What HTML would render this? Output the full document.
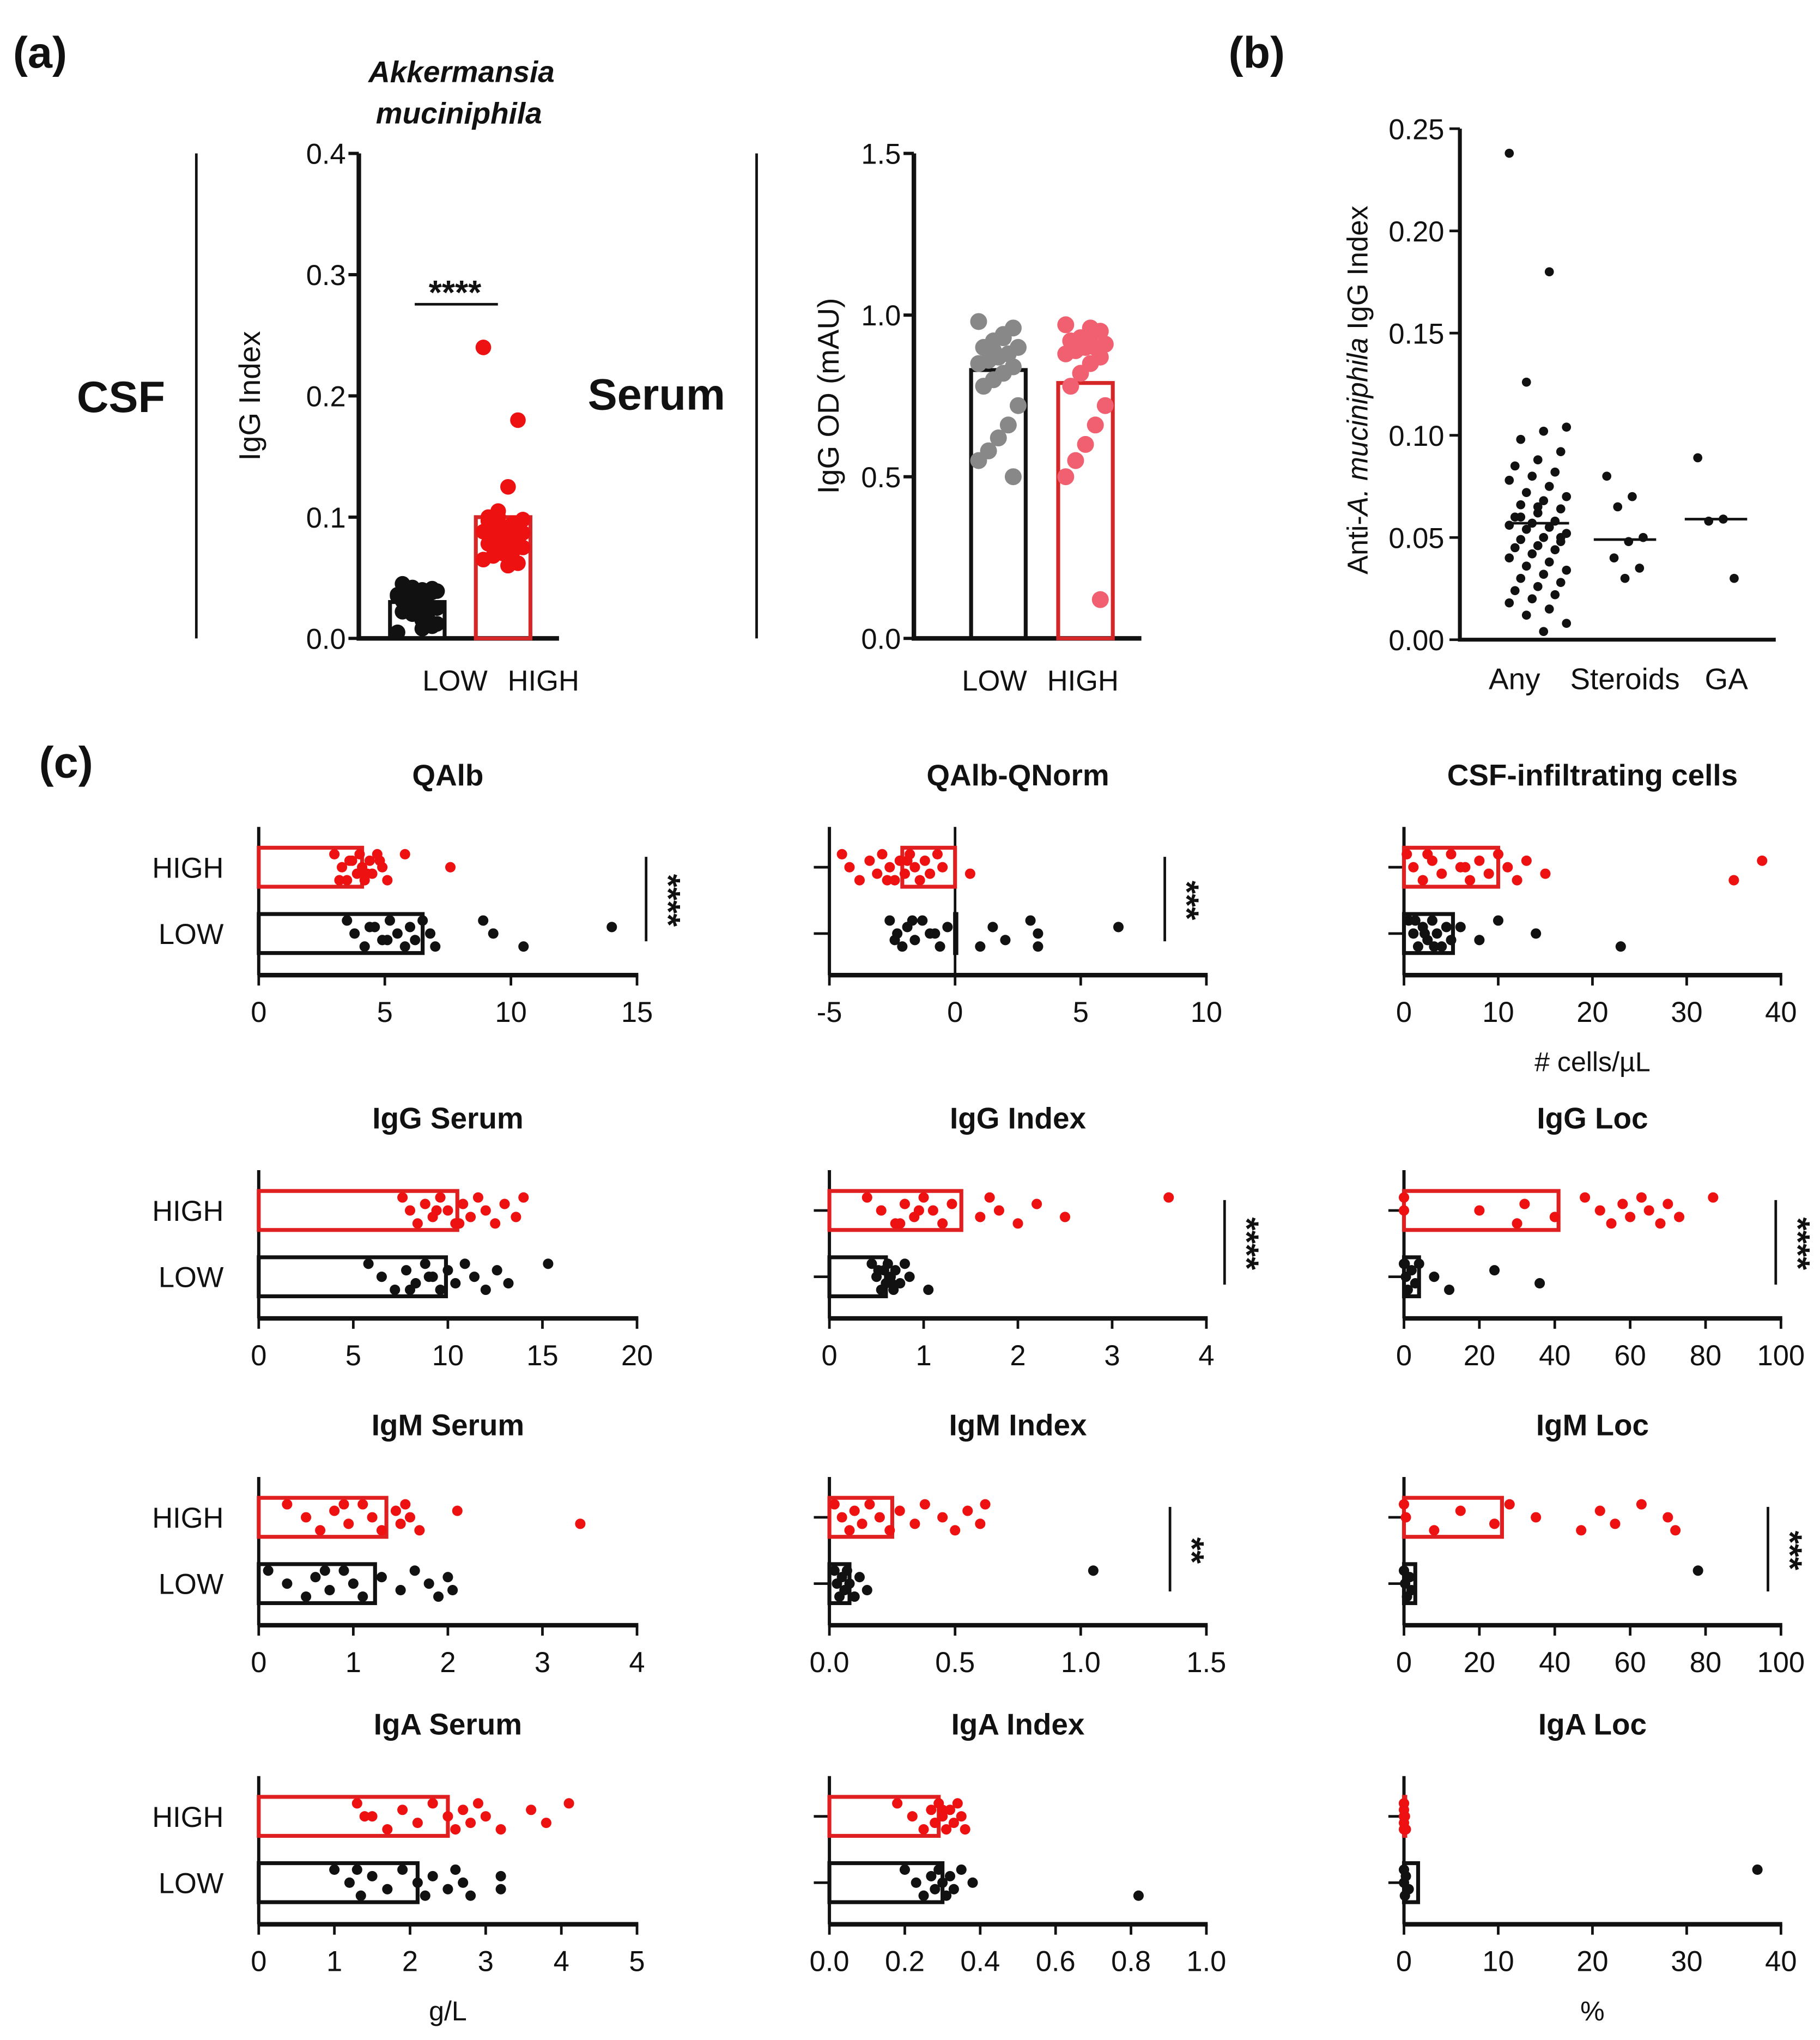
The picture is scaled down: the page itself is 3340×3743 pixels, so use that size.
<!DOCTYPE html>
<html><head><meta charset="utf-8"><style>
html,body{margin:0;padding:0;background:#fff}
svg{display:block}
text{font-family:"Liberation Sans Narrow","Liberation Sans",sans-serif;fill:#111}
</style></head><body>
<svg id="fig" xmlns="http://www.w3.org/2000/svg" width="3340" height="3743" viewBox="0 0 1400 1569">
<g id="root"></g>
</svg>
<script>
// ---------- data ----------
const aCsfCats = ["LOW","HIGH"];
const aCsfBars = [0.03, 0.1];
const aCsfLow = [0.005,0.01,0.015,0.02,0.022,0.025,0.028,0.03,0.032,0.035,0.038,0.04,0.042,0.045,0.012,0.018,0.027,0.033,0.036,0.041,0.008,0.024,0.031,0.039];
const aCsfHigh = [0.24,0.18,0.125,0.105,0.1,0.098,0.095,0.092,0.09,0.088,0.085,0.082,0.08,0.078,0.075,0.072,0.07,0.068,0.065,0.062,0.06,0.1,0.097,0.087,0.083];
const aCsfTicks = [0.0,0.1,0.2,0.3,0.4];
const aSerBars = [0.83, 0.79];
const aSerLow = [0.98,0.96,0.94,0.92,0.9,0.9,0.88,0.87,0.86,0.85,0.84,0.82,0.8,0.78,0.72,0.66,0.62,0.58,0.55,0.5,0.93,0.89];
const aSerHigh = [0.97,0.95,0.94,0.93,0.92,0.91,0.9,0.9,0.89,0.88,0.87,0.85,0.82,0.78,0.72,0.66,0.6,0.55,0.5,0.12,0.96,0.9];
const aSerTicks = [0.0,0.5,1.0,1.5];
const bCats = ["Any","Steroids","GA"];
const bMedians = [0.057,0.049,0.059];
const bAny = [0.238,0.18,0.126,0.104,0.102,0.098,0.092,0.088,0.085,0.082,0.08,0.078,0.075,0.072,0.07,0.068,0.066,0.064,0.062,0.06,0.058,0.057,0.056,0.055,0.054,0.052,0.05,0.049,0.048,0.046,0.045,0.044,0.042,0.04,0.038,0.036,0.034,0.032,0.03,0.028,0.026,0.024,0.022,0.02,0.018,0.015,0.012,0.008,0.004,0.06,0.05,0.065];
const bSteroids = [0.08,0.07,0.065,0.05,0.048,0.04,0.035,0.03];
const bGA = [0.089,0.059,0.058,0.03];
const bTicks = [0.00,0.05,0.10,0.15,0.20,0.25];
// panel c
const cQalbBars=[4.1,6.5], cQalbHigh=[3,3.3,3.5,3.7,3.9,4,4.1,4.2,4.4,4.5,4.7,4.9,5.1,3.6,4.3,5.8,7.6,3.2,4.8], cQalbLow=[3.5,3.8,4.2,4.6,4.9,5.2,5.5,5.8,6,6.2,6.5,6.8,7,4.4,5.1,8.9,9.3,10.5,14];
const cQnBars=[-2.1,0], cQnHigh=[-4.5,-4.2,-3.8,-3.4,-3.1,-2.9,-2.6,-2.4,-2.2,-2,-1.8,-1.6,-1.4,-1.2,-1,-0.7,-0.5,-2.7,-1.9,0.6], cQnLow=[-2.6,-2.3,-2.1,-1.9,-1.6,-1.3,-1,-0.6,-0.3,-2.4,-1.7,-0.8,1,1.5,2,3,3.3,3.3,6.5];
const cCellBars=[10,5.2], cCellHigh=[0.3,1,2,3,4,5,6,7,8,9,10,11,12,13,15,2.5,6.5,35,38], cCellLow=[0.5,1,1.5,2,2.5,3,3.5,4,4.5,5,1.2,2.2,3.2,6,8,10,14,23];
const cIggSBars=[10.5,9.9], cIggSHigh=[7.6,8,8.4,8.8,9.2,9.6,10,10.4,10.8,11.2,11.6,12,12.5,13,13.6,14,9.4,10.6], cIggSLow=[5.8,6.5,7.2,7.8,8.3,8.8,9.2,9.6,10,10.4,10.9,11.4,12,12.6,13.2,15.3,9,8];
const cIggIBars=[1.4,0.6], cIggIHigh=[0.4,0.55,0.7,0.8,0.9,1,1.1,1.2,1.3,1.6,1.7,1.8,2,2.2,2.5,3.6,0.95,0.75], cIggILow=[0.45,0.5,0.55,0.58,0.6,0.62,0.65,0.68,0.7,0.75,0.8,0.85,1.05,0.52,0.66];
const cIggLBars=[41,4], cIggLHigh=[0,20,30,32,40,48,52,55,58,60,63,65,68,70,73,82,0], cIggLLow=[0,0.5,1,2,3,4,8,12,24,36,0.2];
const cIgmSBars=[1.35,1.23], cIgmSHigh=[0.3,0.5,0.65,0.8,0.95,1.1,1.2,1.3,1.45,1.5,1.55,1.6,1.7,2.1,3.4,0.9], cIgmSLow=[0.1,0.3,0.5,0.6,0.75,0.9,1,1.1,1.3,1.5,1.65,1.8,1.9,2,2.05,0.7];
const cIgmIBars=[0.25,0.08], cIgmIHigh=[0.02,0.05,0.08,0.1,0.13,0.16,0.2,0.24,0.28,0.34,0.38,0.45,0.5,0.55,0.6,0.62], cIgmILow=[0.02,0.03,0.04,0.05,0.06,0.07,0.08,0.1,0.12,0.15,1.05];
const cIgmLBars=[26,3], cIgmLHigh=[0,0.5,8,15,24,28,35,47,52,56,63,70,72], cIgmLLow=[0,0.3,0.8,1.5,2,78];
const cIgaSBars=[2.5,2.1], cIgaSHigh=[1.3,1.5,1.7,1.9,2.1,2.3,2.5,2.6,2.7,2.8,2.9,3,3.2,3.6,3.8,4.1,1.4], cIgaSLow=[1,1.2,1.35,1.5,1.7,1.9,2.1,2.2,2.3,2.5,2.6,2.7,2.8,3.2,3.2,1.3];
const cIgaIBars=[0.29,0.3], cIgaIHigh=[0.18,0.22,0.25,0.27,0.28,0.29,0.3,0.31,0.32,0.33,0.34,0.35,0.36,0.3,0.28], cIgaILow=[0.2,0.23,0.25,0.27,0.28,0.29,0.3,0.31,0.32,0.33,0.35,0.38,0.82];
const cIgaLBars=[0,1.5], cIgaLHigh=[0,0,0,0,0,0,0.1,0.2], cIgaLLow=[0,0,0.1,0.2,0.5,37.5];
const cTicksQalb=[0,5,10,15], cTicksQn=[-5,0,5,10], cTicksCell=[0,10,20,30,40], cTicksIggS=[0,5,10,15,20], cTicksIggI=[0,1,2,3,4], cTicks100=[0,20,40,60,80,100], cTicksIgmS=[0,1,2,3,4], cTicksIgmI=[0.0,0.5,1.0,1.5], cTicksIgaS=[0,1,2,3,4,5], cTicksIgaI=[0.0,0.2,0.4,0.6,0.8,1.0];

// ---------- helpers ----------
const NS="http://www.w3.org/2000/svg";
const root=document.getElementById('root');
function mk(tag,attrs,parent,txt){const e=document.createElementNS(NS,tag);for(const k in attrs)e.setAttribute(k,attrs[k]);if(txt!==undefined)e.textContent=txt;(parent||root).appendChild(e);return e;}
function jit(i,n){return ((i*7)%n)-(n-1)/2;}
function fmt(v,d){return v.toFixed(d);}

let t;
t=mk('text',{x:10,y:52,'font-size':34,'font-weight':'bold'},root,'(a)');
t=mk('text',{x:945,y:52,'font-size':34,'font-weight':'bold'},root,'(b)');
t=mk('text',{x:30,y:598,'font-size':34,'font-weight':'bold'},root,'(c)');
t=mk('text',{x:355,y:63,'font-size':23,'font-weight':'bold','font-style':'italic','text-anchor':'middle'},root,'Akkermansia');
t=mk('text',{x:353,y:95,'font-size':23,'font-weight':'bold','font-style':'italic','text-anchor':'middle'},root,'muciniphila');
t=mk('text',{x:93,y:317,'font-size':34,'font-weight':'bold','text-anchor':'middle'},root,'CSF');
t=mk('text',{x:505,y:315,'font-size':34,'font-weight':'bold','text-anchor':'middle'},root,'Serum');
t=mk('line',{x1:151,y1:118,x2:151,y2:491,stroke:'#111','stroke-width':2});
t=mk('line',{x1:582,y1:118,x2:582,y2:491,stroke:'#111','stroke-width':2});

function vPanel(o){
  const g=mk('g',{});
  const y=v=>o.y0-(v-o.d0)/(o.d1-o.d0)*(o.y0-o.y1);
  const ax=mk('path',{d:`M${o.ax},${o.y1}V${o.y0}H${o.axEnd}`,fill:'none',stroke:'#111','stroke-width':3.5},g);
  o.ticks.forEach(v=>{mk('line',{x1:o.ax-8,x2:o.ax,y1:y(v),y2:y(v),stroke:'#111','stroke-width':2.5},g);
    const tl=mk('text',{x:o.ax-10,y:y(v)+8,'font-size':22,'text-anchor':'end'},g,fmt(v,o.dec));});
  const yl=mk('text',{x:0,y:0,'font-size':23,'text-anchor':'middle',transform:`translate(${o.ylx},${(o.y0+o.y1)/2+o.yloff}) rotate(-90)`},g,o.ylabel);
  o.cats.forEach((c,i)=>{const cx=o.cx[i];const col=o.cols[i];
    const b=mk('rect',{x:cx-21,y:y(o.bars[i]),width:42,height:o.y0-y(o.bars[i]),fill:'none',stroke:col,'stroke-width':3},g);
    o.pts[i].forEach((v,k)=>{const p=mk('circle',{cx:cx+jit(k,9)*3.8,cy:y(v),r:o.r,fill:o.pcols[i]},g);});
    const xl=mk('text',{x:cx+o.lxoff[i],y:o.y0+40,'font-size':22,'text-anchor':'middle'},g,c);
  });
}
vPanel({name:'csf-chart',ax:276,axEnd:430,y0:491,y1:118,d0:0,d1:0.4,ticks:aCsfTicks,dec:1,ylx:200,yloff:0,ylabel:'IgG Index',cats:aCsfCats,cx:[321,387],cols:['#111','#d62728'],pcols:['#111','#ee1111'],bars:aCsfBars,pts:[aCsfLow,aCsfHigh],r:6,lxoff:[29,31]});
vPanel({name:'serum-chart',ax:703,axEnd:878,y0:491,y1:118,d0:0,d1:1.5,ticks:aSerTicks,dec:1,ylx:645,yloff:0,ylabel:'IgG OD (mAU)',cats:aCsfCats,cx:[768,835],cols:['#111','#d62728'],pcols:['#888','#f06070'],bars:aSerBars,pts:[aSerLow,aSerHigh],r:6.5,lxoff:[-3,-2]});
t=mk('line',{x1:319,x2:383,y1:234,y2:234,stroke:'#111','stroke-width':2});
t=mk('text',{x:350,y:234,'font-size':26,'font-weight':'bold','text-anchor':'middle'},root,'****');

(function(){
  const g=mk('g',{});
  const y0=492,y1=99,ax=1123;const y=v=>y0-v/0.25*(y0-y1);
  const a=mk('path',{d:`M${ax},${y1}V${y0}H1366`,fill:'none',stroke:'#111','stroke-width':3},g);
  bTicks.forEach(v=>{mk('line',{x1:ax-8,x2:ax,y1:y(v),y2:y(v),stroke:'#111','stroke-width':2},g);
    const tl=mk('text',{x:ax-12,y:y(v)+8,'font-size':22,'text-anchor':'end'},g,fmt(v,2));});
  const yl=mk('text',{x:0,y:0,'font-size':22,'text-anchor':'middle',transform:`translate(1052,300) rotate(-90)`},g);
  yl.innerHTML='Anti-<tspan font-style="italic">A. muciniphila</tspan> IgG Index';
  const cx=[1183,1250,1320];const lx=[1165,1250,1328];const sets=[bAny,bSteroids,bGA];const widths=[22,14,14];
  bCats.forEach((c,i)=>{
    sets[i].forEach((v,k)=>{const p=mk('circle',{cx:cx[i]+jit(k,11)*widths[i]/5,cy:y(v),r:3.5,fill:'#111'},g);});
    const m=mk('line',{x1:cx[i]-24,x2:cx[i]+24,y1:y(bMedians[i]),y2:y(bMedians[i]),stroke:'#111','stroke-width':2},g);
    const xl=mk('text',{x:lx[i],y:530,'font-size':23,'text-anchor':'middle'},g,c);
  });
})();

function hPanel(o){
  const g=mk('g',{});
  const top=o.ty;const yH=top+71,yL=top+122,yA=top+154;
  const x=v=>o.x0+(v-o.d0)/(o.d1-o.d0)*(o.x1-o.x0);
  const tt=mk('text',{x:(o.x0+o.x1)/2,y:top+8,'font-size':23,'font-weight':'bold','text-anchor':'middle'},g,o.title);
  const ya=mk('line',{x1:o.x0,x2:o.x0,y1:top+40,y2:yA,stroke:'#111','stroke-width':2.5},g);
  const xa=mk('line',{x1:o.x0-1,x2:o.x1+1,y1:yA,y2:yA,stroke:'#111','stroke-width':3.5},g);
  if(o.d0<0){const zl=mk('line',{x1:x(0),x2:x(0),y1:top+40,y2:yA,stroke:'#111','stroke-width':2},g);}
  if(o.yt){[yH,yL].forEach(yy=>mk('line',{x1:o.x0-12,x2:o.x0,y1:yy,y2:yy,stroke:'#111','stroke-width':2},g));}
  else{[['HIGH',yH],['LOW',yL]].forEach(([s,yy])=>{const l=mk('text',{x:172,y:yy+8,'font-size':22,'text-anchor':'end'},g,s);});}
  o.ticks.forEach(v=>{mk('line',{x1:x(v),x2:x(v),y1:yA,y2:yA+8,stroke:'#111','stroke-width':2},g);
    const tl=mk('text',{x:x(v),y:yA+36,'font-size':22,'text-anchor':'middle'},g,fmt(v,o.dec));});
  const grp=[[yH,o.bars[0],o.high,'#e02020','#ee1111','high'],[yL,o.bars[1],o.low,'#111','#111','low']];
  grp.forEach(([yy,bv,pts,sc,pc,nm])=>{
    const xs=[x(0),x(bv)].sort((a,b)=>a-b);
    const b=mk('rect',{x:xs[0],y:yy-15,width:Math.max(xs[1]-xs[0],1),height:30,fill:'none',stroke:sc,'stroke-width':3},g);
    pts.forEach((v,k)=>{const p=mk('circle',{cx:x(v),cy:yy+jit(k,5)*5,r:4,fill:pc},g);});
  });
  if(o.sig){const sl=mk('line',{x1:o.sigx,x2:o.sigx,y1:yH-8,y2:yL+6,stroke:'#111','stroke-width':2},g);
    const st=mk('text',{x:0,y:0,'font-size':26,'font-weight':'bold','text-anchor':'middle',transform:`translate(${o.sigx+8},${(yH+yL)/2}) rotate(90)`},g,o.sig);}
  if(o.xlabel){const xl=mk('text',{x:(o.x0+o.x1)/2,y:yA+74,'font-size':21,'text-anchor':'middle'},g,o.xlabel);}
}
const C1=[199,490],C2=[638,928],C3=[1080,1370];
hPanel({name:'qalb-chart',title:'QAlb',ty:596,x0:C1[0],x1:C1[1],d0:0,d1:15,ticks:cTicksQalb,dec:0,bars:cQalbBars,high:cQalbHigh,low:cQalbLow,sig:'****',sigx:497});
hPanel({name:'qalb-qnorm-chart',title:'QAlb-QNorm',ty:596,x0:C2[0],x1:C2[1],d0:-5,d1:10,ticks:cTicksQn,dec:0,bars:cQnBars,high:cQnHigh,low:cQnLow,sig:'***',sigx:896,yt:1});
hPanel({name:'csf-cells-chart',title:'CSF-infiltrating cells',ty:596,x0:C3[0],x1:C3[1],d0:0,d1:40,ticks:cTicksCell,dec:0,bars:cCellBars,high:cCellHigh,low:cCellLow,yt:1,xlabel:'# cells/\u00b5L'});
hPanel({name:'igg-serum-chart',title:'IgG Serum',ty:860,x0:C1[0],x1:C1[1],d0:0,d1:20,ticks:cTicksIggS,dec:0,bars:cIggSBars,high:cIggSHigh,low:cIggSLow});
hPanel({name:'igg-index-chart',title:'IgG Index',ty:860,x0:C2[0],x1:C2[1],d0:0,d1:4,ticks:cTicksIggI,dec:0,bars:cIggIBars,high:cIggIHigh,low:cIggILow,sig:'****',sigx:942,yt:1});
hPanel({name:'igg-loc-chart',title:'IgG Loc',ty:860,x0:C3[0],x1:C3[1],d0:0,d1:100,ticks:cTicks100,dec:0,bars:cIggLBars,high:cIggLHigh,low:cIggLLow,sig:'****',sigx:1366,yt:1});
hPanel({name:'igm-serum-chart',title:'IgM Serum',ty:1096,x0:C1[0],x1:C1[1],d0:0,d1:4,ticks:cTicksIgmS,dec:0,bars:cIgmSBars,high:cIgmSHigh,low:cIgmSLow});
hPanel({name:'igm-index-chart',title:'IgM Index',ty:1096,x0:C2[0],x1:C2[1],d0:0,d1:1.5,ticks:cTicksIgmI,dec:1,bars:cIgmIBars,high:cIgmIHigh,low:cIgmILow,sig:'**',sigx:900,yt:1});
hPanel({name:'igm-loc-chart',title:'IgM Loc',ty:1096,x0:C3[0],x1:C3[1],d0:0,d1:100,ticks:cTicks100,dec:0,bars:cIgmLBars,high:cIgmLHigh,low:cIgmLLow,sig:'***',sigx:1360,yt:1});
hPanel({name:'iga-serum-chart',title:'IgA Serum',ty:1326,x0:C1[0],x1:C1[1],d0:0,d1:5,ticks:cTicksIgaS,dec:0,bars:cIgaSBars,high:cIgaSHigh,low:cIgaSLow,xlabel:'g/L'});
hPanel({name:'iga-index-chart',title:'IgA Index',ty:1326,x0:C2[0],x1:C2[1],d0:0,d1:1,ticks:cTicksIgaI,dec:1,bars:cIgaIBars,high:cIgaIHigh,low:cIgaILow,yt:1});
hPanel({name:'iga-loc-chart',title:'IgA Loc',ty:1326,x0:C3[0],x1:C3[1],d0:0,d1:40,ticks:cTicksCell,dec:0,bars:cIgaLBars,high:cIgaLHigh,low:cIgaLLow,yt:1,xlabel:'%'});
</script>
</body></html>
